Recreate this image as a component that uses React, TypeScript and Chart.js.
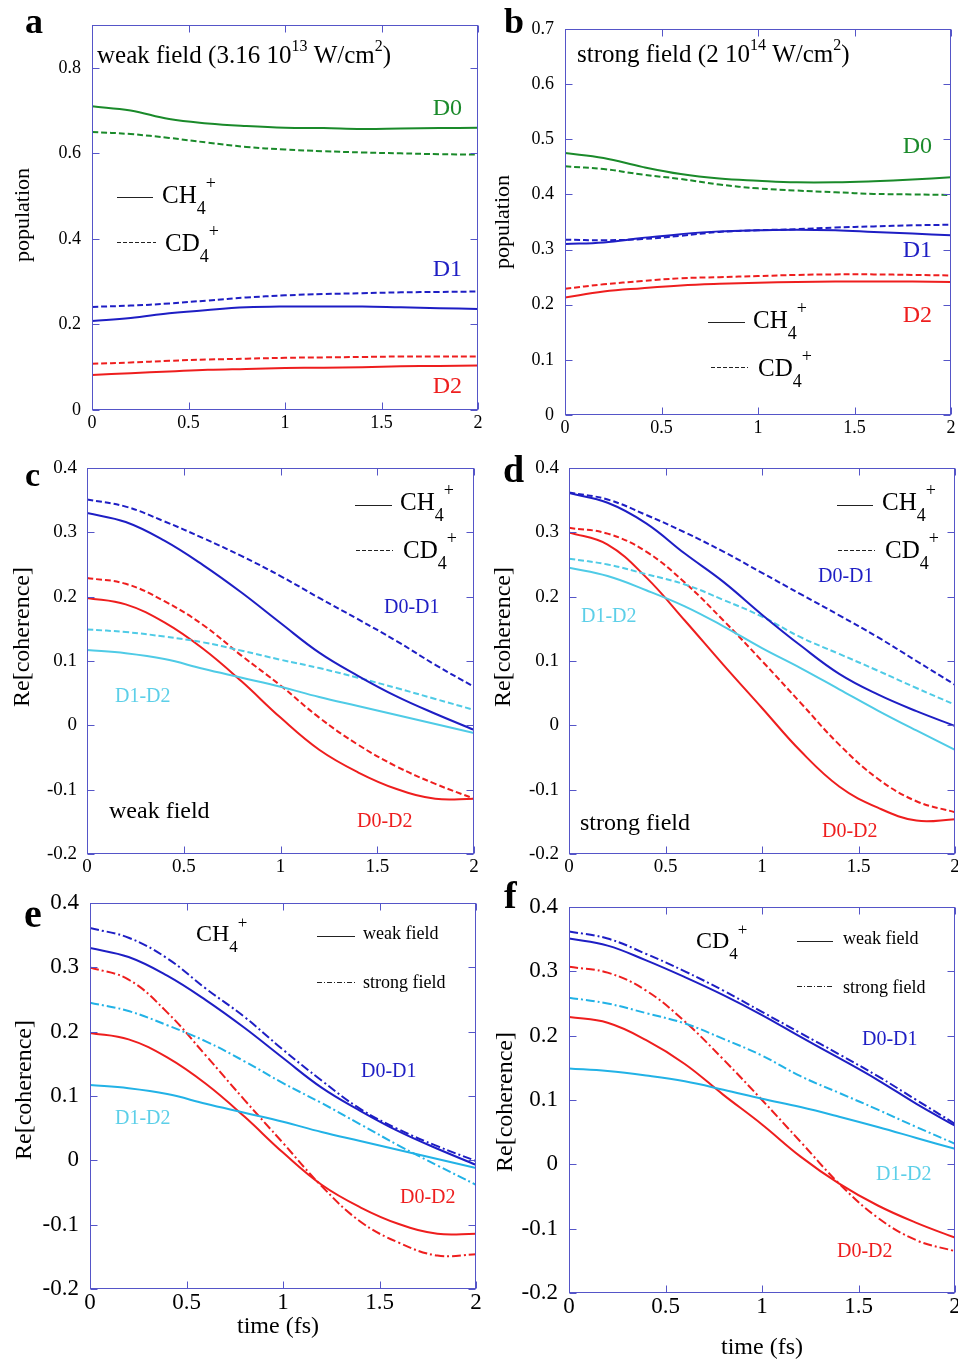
import React, { useEffect, useRef } from "react";
import { Chart, registerables } from "chart.js";
Chart.register(...registerables);

// ---------- data ----------
const timeFs = [0, 0.2, 0.4, 0.6, 0.8, 1.0, 1.2, 1.4, 1.6, 1.8, 2.0];
const xTicks = [0, 0.5, 1, 1.5, 2];
const popTicksWeak = [0, 0.2, 0.4, 0.6, 0.8];
const popTicksStrong = [0, 0.1, 0.2, 0.3, 0.4, 0.5, 0.6, 0.7];
const cohTicks = [-0.2, -0.1, 0, 0.1, 0.2, 0.3, 0.4];

// (a) populations, weak field
const weakCH4_D0 = [0.710, 0.700, 0.680, 0.670, 0.664, 0.660, 0.659, 0.657, 0.658, 0.659, 0.660];
const weakCD4_D0 = [0.650, 0.645, 0.636, 0.625, 0.615, 0.609, 0.605, 0.602, 0.600, 0.598, 0.597];
const weakCH4_D1 = [0.208, 0.215, 0.226, 0.234, 0.240, 0.242, 0.242, 0.242, 0.240, 0.238, 0.236];
const weakCD4_D1 = [0.241, 0.244, 0.249, 0.256, 0.263, 0.268, 0.271, 0.273, 0.275, 0.276, 0.277];
const weakCH4_D2 = [0.082, 0.086, 0.090, 0.094, 0.096, 0.098, 0.099, 0.100, 0.102, 0.103, 0.104];
const weakCD4_D2 = [0.108, 0.111, 0.115, 0.118, 0.120, 0.122, 0.123, 0.124, 0.125, 0.125, 0.125];

// (b) populations, strong field
const strongCH4_D0 = [0.475, 0.466, 0.450, 0.437, 0.429, 0.425, 0.422, 0.422, 0.424, 0.427, 0.431];
const strongCD4_D0 = [0.451, 0.446, 0.436, 0.428, 0.418, 0.411, 0.407, 0.404, 0.401, 0.400, 0.399];
const strongCH4_D1 = [0.310, 0.313, 0.321, 0.328, 0.333, 0.335, 0.336, 0.335, 0.332, 0.329, 0.326];
const strongCD4_D1 = [0.318, 0.317, 0.319, 0.325, 0.332, 0.335, 0.337, 0.340, 0.342, 0.344, 0.345];
const strongCH4_D2 = [0.213, 0.224, 0.230, 0.235, 0.238, 0.240, 0.241, 0.242, 0.242, 0.242, 0.241];
const strongCD4_D2 = [0.229, 0.237, 0.243, 0.248, 0.250, 0.252, 0.254, 0.255, 0.255, 0.254, 0.253];

// (c) coherences, weak field
const weakCH4_D0D1 = [0.330, 0.316, 0.287, 0.249, 0.206, 0.159, 0.113, 0.077, 0.045, 0.018, -0.007];
const weakCD4_D0D1 = [0.351, 0.340, 0.317, 0.291, 0.263, 0.232, 0.198, 0.165, 0.131, 0.094, 0.060];
const weakCH4_D0D2 = [0.198, 0.188, 0.160, 0.119, 0.068, 0.012, -0.038, -0.073, -0.099, -0.114, -0.114];
const weakCD4_D0D2 = [0.229, 0.220, 0.193, 0.156, 0.108, 0.062, 0.012, -0.030, -0.064, -0.091, -0.114];
const weakCH4_D1D2 = [0.117, 0.112, 0.103, 0.088, 0.074, 0.060, 0.044, 0.030, 0.016, 0.002, -0.012];
const weakCD4_D1D2 = [0.149, 0.145, 0.138, 0.129, 0.116, 0.102, 0.089, 0.074, 0.058, 0.041, 0.024];

// (d) coherences, strong field
const strongCH4_D0D1 = [0.361, 0.346, 0.314, 0.267, 0.223, 0.172, 0.124, 0.080, 0.048, 0.022, -0.001];
const strongCD4_D0D1 = [0.362, 0.351, 0.327, 0.300, 0.270, 0.237, 0.204, 0.171, 0.137, 0.100, 0.063];
const strongCH4_D0D2 = [0.300, 0.281, 0.230, 0.163, 0.094, 0.027, -0.040, -0.095, -0.128, -0.148, -0.146];
const strongCD4_D0D2 = [0.307, 0.298, 0.270, 0.222, 0.163, 0.100, 0.035, -0.030, -0.083, -0.118, -0.135];
const strongCH4_D1D2 = [0.245, 0.232, 0.210, 0.185, 0.154, 0.120, 0.089, 0.056, 0.023, -0.008, -0.038];
const strongCD4_D1D2 = [0.259, 0.250, 0.235, 0.219, 0.195, 0.169, 0.137, 0.111, 0.085, 0.058, 0.032];

// ---------- styles ----------
const GREEN = "#1a8a2a";
const BLUE = "#1e1ec4";
const RED = "#ee1e1e";
const CYAN = "#4fcbe6";
const CYAN2 = "#22b2e6";
const CYANTXT = "#5ccfe8";
const FRAME = "#5555c8";
const SERIF = '"Liberation Serif", "Times New Roman", serif';
const DASH = [6, 3];
const DASHDOT = [9, 3, 2, 3];

type Part = [string, number, number];
type TextItem = { x: number; y: number; parts: Part[]; color?: string; bold?: boolean; align?: string; rot?: boolean };
type LineItem = { x1: number; x2: number; y: number; dash: number[] };
type Series = { data: number[]; color: string; dash: number[] };
type Panel = {
  box: { x: number; y: number; w: number; h: number };
  plot: { l: number; t: number; r: number; b: number };
  yMin: number; yMax: number; yTicks: number[]; tickSize: number; xPad: number; yPad: number;
  series: Series[]; texts: TextItem[]; lines: LineItem[];
};

const ch = (x: number, y: number, s: number, name: string): TextItem => ({
  x, y, parts: [[name, s, 0], ["4", Math.round(s * 0.72), Math.round(s * 0.45)], ["+", Math.round(s * 0.72), -Math.round(s * 0.55)]],
});
const t = (x: number, y: number, s: string, size: number, color = "#000", extra: Partial<TextItem> = {}): TextItem => ({ x, y, parts: [[s, size, 0]], color, ...extra });

const panels: Panel[] = [
  {
    box: { x: 0, y: 0, w: 490, h: 450 }, plot: { l: 92, t: 25, r: 478, b: 410 },
    yMin: 0, yMax: 0.9, yTicks: popTicksWeak, tickSize: 18, xPad: 2, yPad: 11,
    series: [
      { data: weakCH4_D0, color: GREEN, dash: [] }, { data: weakCD4_D0, color: GREEN, dash: DASH },
      { data: weakCH4_D1, color: BLUE, dash: [] }, { data: weakCD4_D1, color: BLUE, dash: DASH },
      { data: weakCH4_D2, color: RED, dash: [] }, { data: weakCD4_D2, color: RED, dash: DASH },
    ],
    texts: [
      t(25, 33, "a", 36, "#000", { bold: true }),
      { x: 97, y: 63, parts: [["weak field (3.16 10", 25, 0], ["13", 16, -12], [" W/cm", 25, 0], ["2", 16, -12], [")", 25, 0]] },
      t(462, 115, "D0", 24, GREEN, { align: "right" }),
      t(462, 276, "D1", 24, BLUE, { align: "right" }),
      t(462, 393, "D2", 24, RED, { align: "right" }),
      ch(162, 203, 25, "CH"), ch(165, 251, 25, "CD"),
      t(29, 215, "population", 22, "#000", { rot: true, align: "center" }),
    ],
    lines: [{ x1: 117, x2: 153, y: 197, dash: [] }, { x1: 117, x2: 156, y: 242, dash: [4, 2] }],
  },
  {
    box: { x: 479, y: 0, w: 479, h: 450 }, plot: { l: 565, t: 29, r: 951, b: 415 },
    yMin: 0, yMax: 0.7, yTicks: popTicksStrong, tickSize: 18, xPad: 2, yPad: 11,
    series: [
      { data: strongCH4_D0, color: GREEN, dash: [] }, { data: strongCD4_D0, color: GREEN, dash: DASH },
      { data: strongCH4_D1, color: BLUE, dash: [] }, { data: strongCD4_D1, color: BLUE, dash: DASH },
      { data: strongCH4_D2, color: RED, dash: [] }, { data: strongCD4_D2, color: RED, dash: DASH },
    ],
    texts: [
      t(504, 33, "b", 36, "#000", { bold: true }),
      { x: 577, y: 62, parts: [["strong field (2 10", 25, 0], ["14", 16, -12], [" W/cm", 25, 0], ["2", 16, -12], [")", 25, 0]] },
      t(932, 153, "D0", 24, GREEN, { align: "right" }),
      t(932, 257, "D1", 24, BLUE, { align: "right" }),
      t(932, 322, "D2", 24, RED, { align: "right" }),
      ch(753, 328, 25, "CH"), ch(758, 376, 25, "CD"),
      t(509, 222, "population", 22, "#000", { rot: true, align: "center" }),
    ],
    lines: [{ x1: 708, x2: 745, y: 322, dash: [] }, { x1: 711, x2: 748, y: 367, dash: [4, 2] }],
  },
  {
    box: { x: 0, y: 440, w: 490, h: 445 }, plot: { l: 87, t: 468, r: 474, b: 854 },
    yMin: -0.2, yMax: 0.4, yTicks: cohTicks, tickSize: 19, xPad: 2, yPad: 10,
    series: [
      { data: weakCH4_D0D1, color: BLUE, dash: [] }, { data: weakCD4_D0D1, color: BLUE, dash: DASH },
      { data: weakCH4_D1D2, color: CYAN, dash: [] }, { data: weakCD4_D1D2, color: CYAN, dash: DASH },
      { data: weakCH4_D0D2, color: RED, dash: [] }, { data: weakCD4_D0D2, color: RED, dash: DASH },
    ],
    texts: [
      t(25, 486, "c", 34, "#000", { bold: true }),
      ch(400, 510, 25, "CH"), ch(403, 558, 25, "CD"),
      t(384, 613, "D0-D1", 20, BLUE),
      t(115, 702, "D1-D2", 20, CYANTXT),
      t(357, 827, "D0-D2", 20, RED),
      t(109, 818, "weak field", 24),
      t(29, 637, "Re[coherence]", 24, "#000", { rot: true, align: "center" }),
    ],
    lines: [{ x1: 355, x2: 392, y: 505, dash: [] }, { x1: 356, x2: 393, y: 550, dash: [4, 2] }],
  },
  {
    box: { x: 479, y: 440, w: 479, h: 445 }, plot: { l: 569, t: 468, r: 955, b: 854 },
    yMin: -0.2, yMax: 0.4, yTicks: cohTicks, tickSize: 19, xPad: 2, yPad: 10,
    series: [
      { data: strongCH4_D0D1, color: BLUE, dash: [] }, { data: strongCD4_D0D1, color: BLUE, dash: DASH },
      { data: strongCH4_D1D2, color: CYAN, dash: [] }, { data: strongCD4_D1D2, color: CYAN, dash: DASH },
      { data: strongCH4_D0D2, color: RED, dash: [] }, { data: strongCD4_D0D2, color: RED, dash: DASH },
    ],
    texts: [
      t(503, 482, "d", 38, "#000", { bold: true }),
      ch(882, 510, 25, "CH"), ch(885, 558, 25, "CD"),
      t(818, 582, "D0-D1", 20, BLUE),
      t(581, 622, "D1-D2", 20, CYANTXT),
      t(822, 837, "D0-D2", 20, RED),
      t(580, 830, "strong field", 24),
      t(510, 637, "Re[coherence]", 24, "#000", { rot: true, align: "center" }),
    ],
    lines: [{ x1: 837, x2: 873, y: 505, dash: [] }, { x1: 838, x2: 875, y: 550, dash: [4, 2] }],
  },
  {
    box: { x: 0, y: 870, w: 490, h: 494 }, plot: { l: 90, t: 903, r: 476, b: 1289 },
    yMin: -0.2, yMax: 0.4, yTicks: cohTicks, tickSize: 23, xPad: 0, yPad: 11,
    series: [
      { data: weakCH4_D0D1, color: BLUE, dash: [] }, { data: strongCH4_D0D1, color: BLUE, dash: DASHDOT },
      { data: weakCH4_D1D2, color: CYAN2, dash: [] }, { data: strongCH4_D1D2, color: CYAN2, dash: DASHDOT },
      { data: weakCH4_D0D2, color: RED, dash: [] }, { data: strongCH4_D0D2, color: RED, dash: DASHDOT },
    ],
    texts: [
      t(24, 927, "e", 40, "#000", { bold: true }),
      ch(196, 941, 24, "CH"),
      t(363, 939, "weak field", 18), t(363, 988, "strong field", 18),
      t(361, 1077, "D0-D1", 20, BLUE),
      t(115, 1124, "D1-D2", 20, CYANTXT),
      t(400, 1203, "D0-D2", 20, RED),
      t(31, 1090, "Re[coherence]", 24, "#000", { rot: true, align: "center" }),
      t(278, 1333, "time (fs)", 24, "#000", { align: "center" }),
    ],
    lines: [{ x1: 317, x2: 355, y: 936, dash: [] }, { x1: 317, x2: 355, y: 982, dash: [5, 2, 1, 2] }],
  },
  {
    box: { x: 479, y: 870, w: 479, h: 494 }, plot: { l: 569, t: 907, r: 955, b: 1293 },
    yMin: -0.2, yMax: 0.4, yTicks: cohTicks, tickSize: 23, xPad: 0, yPad: 11,
    series: [
      { data: weakCD4_D0D1, color: BLUE, dash: [] }, { data: strongCD4_D0D1, color: BLUE, dash: DASHDOT },
      { data: weakCD4_D1D2, color: CYAN2, dash: [] }, { data: strongCD4_D1D2, color: CYAN2, dash: DASHDOT },
      { data: weakCD4_D0D2, color: RED, dash: [] }, { data: strongCD4_D0D2, color: RED, dash: DASHDOT },
    ],
    texts: [
      t(504, 908, "f", 38, "#000", { bold: true }),
      ch(696, 948, 24, "CD"),
      t(843, 944, "weak field", 18), t(843, 993, "strong field", 18),
      t(862, 1045, "D0-D1", 20, BLUE),
      t(876, 1180, "D1-D2", 20, CYANTXT),
      t(837, 1257, "D0-D2", 20, RED),
      t(512, 1102, "Re[coherence]", 24, "#000", { rot: true, align: "center" }),
      t(762, 1354, "time (fs)", 24, "#000", { align: "center" }),
    ],
    lines: [{ x1: 797, x2: 833, y: 941, dash: [] }, { x1: 797, x2: 833, y: 986, dash: [5, 2, 1, 2] }],
  },
];

function drawText(ctx: CanvasRenderingContext2D, it: TextItem, ox: number, oy: number) {
  ctx.save();
  ctx.fillStyle = it.color || "#000";
  ctx.textBaseline = "alphabetic";
  ctx.textAlign = "left";
  const font = (s: number) => `${it.bold ? "bold " : ""}${s}px ${SERIF}`;
  let total = 0;
  for (const [s, size] of it.parts) { ctx.font = font(size); total += ctx.measureText(s).width; }
  const start = it.align === "right" ? -total : it.align === "center" ? -total / 2 : 0;
  ctx.translate(it.x - ox, it.y - oy);
  if (it.rot) ctx.rotate(-Math.PI / 2);
  let cx = start;
  for (const [s, size, dy] of it.parts) {
    ctx.font = font(size);
    ctx.fillText(s, cx, dy);
    cx += ctx.measureText(s).width;
  }
  ctx.restore();
}

function PanelChart({ p }: { p: Panel }) {
  const ref = useRef<HTMLCanvasElement>(null);
  useEffect(() => {
    const canvas = ref.current!;
    const { box, plot } = p;
    const deco = {
      id: "deco",
      afterDatasetsDraw(chart: any) {
        const ctx: CanvasRenderingContext2D = chart.ctx;
        const a = chart.chartArea;
        const xs = chart.scales.x, ys = chart.scales.y;
        ctx.save();
        ctx.strokeStyle = FRAME;
        ctx.lineWidth = 1;
        const L = Math.round(a.left) + 0.5, R = Math.round(a.right) - 0.5;
        const T = Math.round(a.top) + 0.5, B = Math.round(a.bottom) - 0.5;
        ctx.strokeRect(L, T, R - L, B - T);
        ctx.beginPath();
        for (const tk of xs.ticks) {
          const px = Math.round(xs.getPixelForValue(tk.value)) + 0.5;
          ctx.moveTo(px, B); ctx.lineTo(px, B - 7);
          ctx.moveTo(px, T); ctx.lineTo(px, T + 7);
        }
        for (const tk of ys.ticks) {
          const py = Math.round(ys.getPixelForValue(tk.value)) + 0.5;
          ctx.moveTo(L, py); ctx.lineTo(L + 7, py);
          ctx.moveTo(R, py); ctx.lineTo(R - 7, py);
        }
        ctx.stroke();
        ctx.strokeStyle = "#222";
        for (const ln of p.lines) {
          ctx.beginPath();
          ctx.setLineDash(ln.dash);
          ctx.moveTo(ln.x1 - box.x, ln.y - box.y + 0.5);
          ctx.lineTo(ln.x2 - box.x, ln.y - box.y + 0.5);
          ctx.stroke();
        }
        ctx.setLineDash([]);
        ctx.restore();
        for (const it of p.texts) drawText(ctx, it, box.x, box.y);
      },
    };
    const chart = new Chart(canvas, {
      type: "line",
      data: {
        datasets: p.series.map((s) => ({
          data: timeFs.map((x, i) => ({ x, y: s.data[i] })),
          borderColor: s.color,
          borderWidth: 2,
          borderDash: s.dash,
          pointRadius: 0,
          fill: false,
          tension: 0.4,
        })),
      },
      options: {
        animation: false,
        responsive: false,
        devicePixelRatio: 1,
        layout: { padding: { left: 0, top: plot.t - box.y, right: box.x + box.w - plot.r, bottom: 0 } },
        plugins: { legend: { display: false }, tooltip: { enabled: false } },
        scales: {
          x: {
            type: "linear", min: 0, max: 2,
            grid: { display: false, drawTicks: false },
            border: { display: false },
            afterBuildTicks: (s: any) => { s.ticks = xTicks.map((v) => ({ value: v })); },
            afterFit: (s: any) => { s.height = box.y + box.h - plot.b; s.paddingLeft = 0; s.paddingRight = 0; },
            ticks: { color: "#000", font: { family: SERIF, size: p.tickSize }, padding: p.xPad, maxRotation: 0, autoSkip: false, callback: (v: any) => String(v) },
          },
          y: {
            type: "linear", min: p.yMin, max: p.yMax,
            grid: { display: false, drawTicks: false },
            border: { display: false },
            afterBuildTicks: (s: any) => { s.ticks = p.yTicks.map((v) => ({ value: v })); },
            afterFit: (s: any) => { s.width = plot.l - box.x; s.paddingTop = 0; s.paddingBottom = 0; },
            ticks: { color: "#000", font: { family: SERIF, size: p.tickSize }, padding: p.yPad, autoSkip: false, callback: (v: any) => String(v) },
          },
        },
      } as any,
      plugins: [deco],
    });
    return () => chart.destroy();
  }, [p]);
  return (
    <canvas
      ref={ref}
      width={p.box.w}
      height={p.box.h}
      style={{ position: "absolute", left: p.box.x, top: p.box.y, width: p.box.w, height: p.box.h }}
    />
  );
}

export default function App() {
  return (
    <div style={{ position: "absolute", left: 0, top: 0, width: 958, height: 1364, background: "#fff", overflow: "hidden" }}>
      {panels.map((p, i) => (
        <PanelChart key={i} p={p} />
      ))}
    </div>
  );
}
